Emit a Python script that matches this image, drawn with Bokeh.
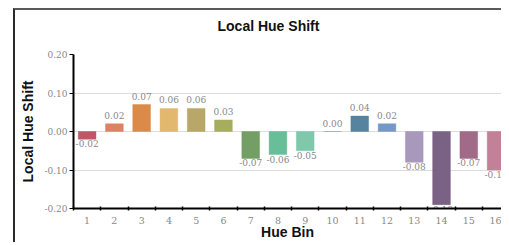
from bokeh.plotting import figure
from bokeh.models import ColumnDataSource, FixedTicker, Title
from bokeh.core.properties import value
from bokeh.embed import file_html
from bokeh.resources import INLINE

title_text = "Local Hue Shift"
bins = list(range(1, 17))
shifts = [-0.02, 0.02, 0.07, 0.06, 0.06, 0.03, -0.07, -0.06, -0.05, 0.00, 0.04, 0.02, -0.08, -0.19, -0.07, -0.10]
colors = ["#b9505e", "#db7b5c", "#d9853f", "#dfb466", "#b5a262", "#a2a955", "#6b9a5c", "#5fba94",
          "#79c5a8", "#8aa0b0", "#4d7c9b", "#6d94c4", "#a394b8", "#735a7e", "#9c6282", "#c07a92"]
labels = ["%.2f" % v for v in shifts]
y_ticks = [-0.2, -0.1, 0.0, 0.1, 0.2]

pos_bins = [b for b, v in zip(bins, shifts) if v >= 0]
pos_vals = [v for v in shifts if v >= 0]
pos_lab = [l for l, v in zip(labels, shifts) if v >= 0]
neg_bins = [b for b, v in zip(bins, shifts) if v < 0]
neg_vals = [v for v in shifts if v < 0]
neg_lab = [l for l, v in zip(labels, shifts) if v < 0]

src = ColumnDataSource(dict(x=bins, top=shifts, color=colors))

p = figure(width=486, height=227, output_backend="svg", toolbar_location=None,
           x_range=(0.5, 16.2), y_range=(-0.2, 0.2),
           frame_width=428, frame_height=154,
           min_border_left=58, min_border_right=0, min_border_top=43, min_border_bottom=0,
           margin=(8, 0, 0, 13),
           styles={"box-sizing": "content-box", "border-left": "2px solid #2a2a2a",
                   "border-top": "2px solid #5a5a5a"})
p.title = Title(text=title_text + "\n", align="left", offset=144, standoff=10,
                text_font="Liberation Sans", text_font_size="14px", text_font_style="bold",
                text_color="#111")

p.vbar(x="x", top="top", bottom=0, width=0.65, source=src, fill_color="color",
       fill_alpha=0.95, line_color="color", line_alpha=0.4)

sp = ColumnDataSource(dict(x=pos_bins, y=pos_vals, t=pos_lab))
sn = ColumnDataSource(dict(x=neg_bins, y=neg_vals, t=neg_lab))
p.text(x="x", y="y", text="t", source=sp, text_align="center", text_baseline="bottom",
       y_offset=-5, text_font=value("DejaVu Serif"), text_font_size="9px", text_color="#888")
p.text(x="x", y="y", text="t", source=sn, text_align="center", text_baseline="top",
       y_offset=1, text_font=value("DejaVu Serif"), text_font_size="9px", text_color="#888")

p.xgrid.grid_line_color = None
p.ygrid.grid_line_color = "#dcdcdc"
p.ygrid.grid_line_width = 1
p.outline_line_color = None

p.yaxis.ticker = FixedTicker(ticks=y_ticks)
p.yaxis.major_label_overrides = {t: "%.2f" % t for t in y_ticks}
p.yaxis.axis_label = "Local Hue Shift"
p.xaxis.ticker = FixedTicker(ticks=bins, minor_ticks=[b + 0.5 for b in [0] + bins])
p.xaxis.axis_label = "Hue Bin"

for ax in (p.xaxis, p.yaxis):
    ax.axis_line_color = "#000"
    ax.axis_line_width = 2
    ax.major_label_text_font = "DejaVu Serif"
    ax.major_label_text_color = "#888"
    ax.axis_label_text_font = "Liberation Sans"
    ax.axis_label_text_font_style = "bold"
    ax.axis_label_text_font_size = "14px"
    ax.axis_label_text_color = "#111"

p.yaxis.major_label_text_font_size = "9px"
p.yaxis.major_tick_out = 4
p.yaxis.major_tick_in = 0
p.yaxis.major_tick_line_color = "#000"
p.yaxis.minor_tick_line_color = None
p.yaxis.major_label_standoff = 2
p.yaxis.axis_label_standoff = 5

p.xaxis.major_label_text_font_size = "9.5px"
p.xaxis.major_tick_line_color = None
p.xaxis.minor_tick_line_color = "#000"
p.xaxis.minor_tick_line_width = 1.5
p.xaxis.minor_tick_in = 2
p.xaxis.minor_tick_out = 2
p.xaxis.major_label_standoff = 2
p.xaxis.axis_label_standoff = -3

open("out.html", "w").write(file_html(p, INLINE))
